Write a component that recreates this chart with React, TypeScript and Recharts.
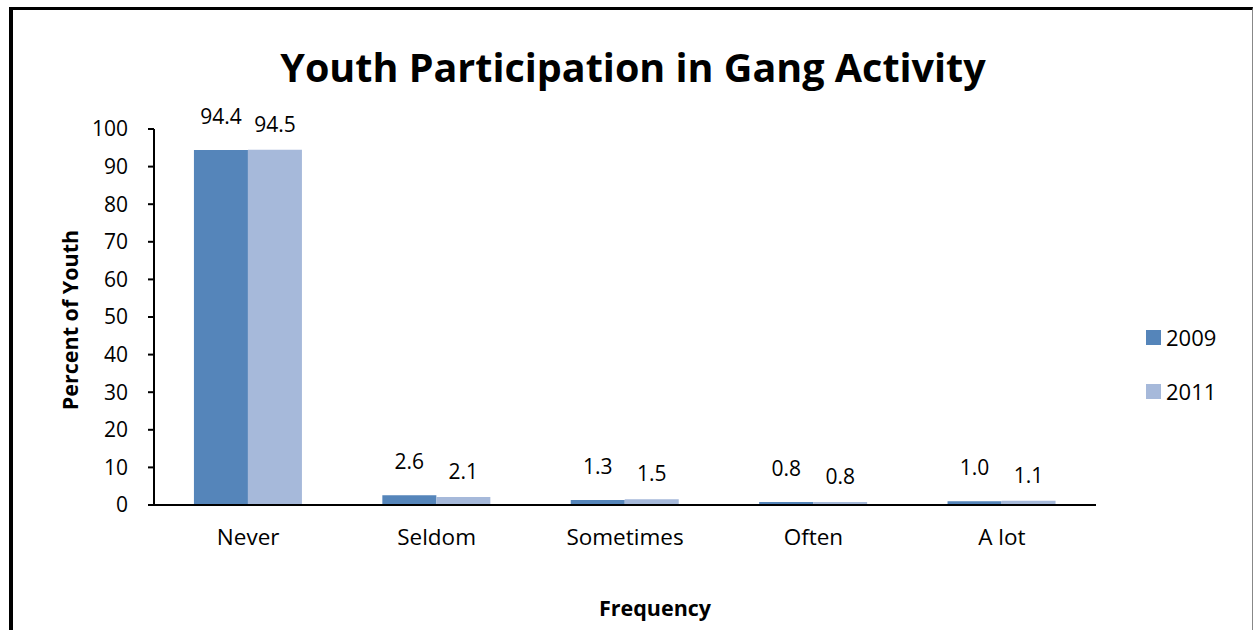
import { BarChart, Bar, XAxis, YAxis, LabelList } from "recharts";

const categories = ["Never", "Seldom", "Sometimes", "Often", "A lot"];
const values2009 = [94.4, 2.6, 1.3, 0.8, 1.0];
const values2011 = [94.5, 2.1, 1.5, 0.8, 1.1];
const yTicks = [0, 10, 20, 30, 40, 50, 60, 70, 80, 90, 100];

const data = categories.map((name, i) => ({
  name,
  y2009: values2009[i],
  y2011: values2011[i],
}));

const FONT = "'Open Sans', Lato, sans-serif";
const C2009 = "#5585ba";
const C2011 = "#a6b9da";

function LegendBox() {
  const items = [
    { label: "2009", color: C2009 },
    { label: "2011", color: C2011 },
  ];
  return (
    <div
      style={{
        position: "absolute",
        left: 1146,
        top: 310,
        fontFamily: FONT,
        fontSize: 22,
        color: "#000",
      }}
    >
      {items.map((it) => (
        <div
          key={it.label}
          style={{ display: "flex", alignItems: "center", height: 54 }}
        >
          <span
            style={{
              width: 15,
              height: 15,
              background: it.color,
              marginRight: 5,
              display: "inline-block",
            }}
          />
          {it.label}
        </div>
      ))}
    </div>
  );
}

export default function App() {
  return (
    <div
      style={{
        position: "absolute",
        left: 0,
        top: 0,
        width: 1255,
        height: 630,
        background: "#fff",
        overflow: "hidden",
      }}
    >
      <div
        style={{
          position: "absolute",
          left: 9,
          top: 7,
          width: 1244,
          height: 640,
          borderLeft: "4px solid #000",
          borderTop: "3px solid #000",
          borderRight: "1px solid #888",
          boxSizing: "border-box",
        }}
      />
      <div
        style={{
          position: "absolute",
          left: 0,
          width: 1266,
          top: 40,
          textAlign: "center",
          fontFamily: FONT,
          fontWeight: 700,
          fontSize: 39.5,
          lineHeight: "54px",
        }}
      >
        Youth Participation in Gang Activity
      </div>
      <div
        style={{
          position: "absolute",
          left: 69,
          top: 320,
          transform: "translate(-50%, -50%) rotate(-90deg)",
          whiteSpace: "nowrap",
          fontFamily: FONT,
          fontWeight: 700,
          fontSize: 21.5,
        }}
      >
        Percent of Youth
      </div>
      <div
        style={{
          position: "absolute",
          left: 0,
          width: 1310,
          top: 593,
          textAlign: "center",
          fontFamily: FONT,
          fontWeight: 700,
          fontSize: 21.5,
          lineHeight: "30px",
        }}
      >
        Frequency
      </div>
      <BarChart
        width={1255}
        height={630}
        data={data}
        margin={{ top: 129, right: 159, left: 0, bottom: 0 }}
        barCategoryGap="21.2%"
        barGap={0}
        style={{ position: "absolute", left: 0, top: 0 }}
      >
        <XAxis
          dataKey="name"
          axisLine={{ stroke: "#000", strokeWidth: 2 }}
          tickLine={false}
          tick={{ fill: "#000", fontSize: 22.5, fontFamily: FONT }}
          tickMargin={18}
          height={125}
        />
        <YAxis
          width={154}
          domain={[0, 100]}
          ticks={yTicks}
          interval={0}
          axisLine={{ stroke: "#000", strokeWidth: 2 }}
          tickLine={{ stroke: "#000", strokeWidth: 2 }}
          tickSize={6}
          tickMargin={20}
          tick={{ fill: "#000", fontSize: 21, fontFamily: FONT }}
        />
        <Bar dataKey="y2009" fill={C2009} isAnimationActive={false}>
          <LabelList
            dataKey="y2009"
            position="top"
            offset={26}
            formatter={(v: any) => Number(v).toFixed(1)}
            style={{ fill: "#000", fontSize: 21, fontFamily: FONT }}
          />
        </Bar>
        <Bar dataKey="y2011" fill={C2011} isAnimationActive={false}>
          <LabelList
            dataKey="y2011"
            position="top"
            offset={18}
            formatter={(v: any) => Number(v).toFixed(1)}
            style={{ fill: "#000", fontSize: 21, fontFamily: FONT }}
          />
        </Bar>
      </BarChart>
      <LegendBox />
    </div>
  );
}
